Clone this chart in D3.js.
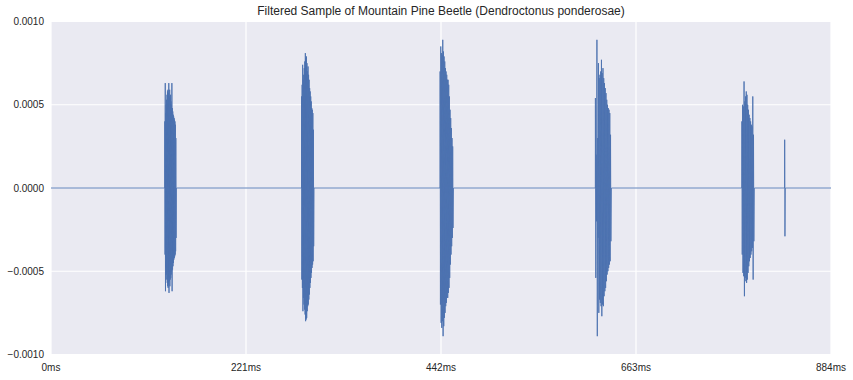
<!DOCTYPE html>
<html>
<head>
<meta charset="utf-8">
<script src="https://cdn.jsdelivr.net/npm/d3@7"></script>
<style>
  body { margin: 0; background: #fff; }
  text { font-family: "Liberation Sans", Arial, sans-serif; fill: #262626; }
</style>
</head>
<body>
<div id="canvas"></div>
<script>
"use strict"

/* Data: bursts of the filtered signal (ms, amplitude) */
let burstStart = [129, 284, 441, 617, 783, 831.5];
let burstLength = [13, 14, 15, 18, 14, 0.6];
let burstPos = [
    [4.0, 6.3, 4.5, 5.0, 5.3, 5.6, 5.8, 5.9, 5.7, 6.3, 5.5, 5.9, 5.4, 5.6, 5.2, 5.0, 6.3, 4.8, 4.6, 4.4, 4.3, 4.2, 4.1, 4.0, 3.8, 3.0],
    [5.5, 6.2, 7.4, 6.5, 6.8, 7.2, 7.6, 8.1, 7.8, 7.9, 7.5, 7.0, 7.3, 6.8, 6.5, 6.0, 5.8, 5.5, 5.2, 4.8, 4.7, 4.5, 3.5],
    [7.0, 8.5, 8.1, 8.0, 8.9, 8.2, 7.9, 7.6, 7.2, 7.0, 6.8, 6.5, 6.5, 6.2, 5.5, 4.7, 4.2, 3.6, 3.0, 2.5],
    [5.4, 2.0, 8.9, 3.0, 7.5, 6.6, 6.8, 7.0, 7.7, 6.9, 7.2, 6.6, 6.3, 6.0, 5.7, 5.3, 5.0, 4.8, 4.7, 4.5, 3.2],
    [4.0, 5.0, 4.9, 6.4, 5.2, 5.5, 5.8, 5.6, 5.0, 4.7, 4.4, 4.2, 4.0, 3.8, 3.7, 5.5, 3.2],
    [2.9]
];
let burstNeg = [
    [-4.0, -6.2, -4.8, -5.2, -5.5, -5.7, -5.9, -6.0, -5.8, -6.3, -5.6, -5.9, -5.5, -5.4, -5.2, -5.0, -6.2, -4.9, -4.7, -4.5, -4.3, -4.2, -4.1, -4.0, -3.8, -3.0],
    [-5.5, -6.0, -7.4, -6.6, -7.0, -7.3, -7.6, -8.0, -7.9, -7.8, -7.4, -7.1, -7.0, -6.7, -6.4, -6.0, -5.7, -5.4, -5.1, -4.8, -4.6, -4.4, -3.5],
    [-7.0, -8.1, -8.4, -8.0, -8.9, -8.3, -7.8, -7.5, -7.1, -6.9, -6.6, -6.6, -6.3, -6.0, -5.4, -4.6, -4.0, -3.5, -3.0, -2.4],
    [-5.4, -2.0, -8.9, -3.0, -7.5, -6.7, -6.9, -7.1, -7.7, -7.0, -7.1, -6.5, -6.2, -6.0, -5.6, -5.2, -5.0, -4.8, -4.6, -4.4, -3.2],
    [-4.0, -5.1, -5.3, -6.5, -5.4, -5.6, -5.7, -5.5, -5.1, -4.7, -4.4, -4.2, -4.0, -3.8, -3.6, -5.5, -3.2],
    [-2.9]
]; // amplitudes in units of 1e-4

let xTicks = [0, 221, 442, 663, 884];
let yTicks = [0.001, 0.0005, 0, -0.0005, -0.001];
let yTickLabels = ["0.0010", "0.0005", "0.0000", "\u22120.0005", "\u22120.0010"];

/* Drawing config */
let svgWidth = 853;
let svgHeight = 380;
let plotLeft = 51, plotRight = 831, plotTop = 21.5, plotBottom = 354.5;

let svg = d3.select("#canvas")
    .append("svg")
    .attr("width", svgWidth)
    .attr("height", svgHeight);

let xScale = d3.scaleLinear()
    .domain([0, 884])
    .range([plotLeft, plotRight]);

let yScale = d3.scaleLinear()
    .domain([-0.001, 0.001])
    .range([plotBottom, plotTop]);

/* background + grid */
svg.append("rect")
    .attr("x", plotLeft)
    .attr("y", plotTop)
    .attr("width", plotRight - plotLeft)
    .attr("height", plotBottom - plotTop)
    .attr("fill", "#EAEAF2");

svg.selectAll(".xgrid")
    .data(xTicks)
    .join("line")
    .attr("x1", d => xScale(d))
    .attr("x2", d => xScale(d))
    .attr("y1", plotTop)
    .attr("y2", plotBottom)
    .attr("stroke", "white")
    .attr("stroke-width", 1.2);

svg.selectAll(".ygrid")
    .data(yTicks)
    .join("line")
    .attr("x1", plotLeft)
    .attr("x2", plotRight)
    .attr("y1", d => yScale(d))
    .attr("y2", d => yScale(d))
    .attr("stroke", "white")
    .attr("stroke-width", 1.2);

/* build sample points: zero between bursts, alternating peaks inside */
let points = [[0, 0]];
burstStart.forEach(function(t0, i) {
    let n = burstPos[i].length;
    let step = burstLength[i] / n;
    points.push([t0 - 0.1, 0]);
    for (let k = 0; k < n; k++) {
        points.push([t0 + k * step, burstPos[i][k] * 1e-4]);
        points.push([t0 + (k + 0.5) * step, burstNeg[i][k] * 1e-4]);
    }
    points.push([t0 + burstLength[i] + 0.1, 0]);
});
points.push([884, 0]);

let line = d3.line()
    .x(d => xScale(d[0]))
    .y(d => yScale(d[1]));

svg.append("path")
    .datum(points)
    .attr("d", line)
    .attr("fill", "none")
    .attr("stroke", "#4C72B0")
    .attr("stroke-width", 0.9)
    .attr("stroke-linejoin", "miter");

/* tick labels */
svg.selectAll(".xlab")
    .data(xTicks)
    .join("text")
    .attr("x", d => xScale(d))
    .attr("y", plotBottom + 16)
    .attr("text-anchor", "middle")
    .style("font-size", "10px")
    .text(d => d + "ms");

svg.selectAll(".ylab")
    .data(yTicks)
    .join("text")
    .attr("x", plotLeft - 7)
    .attr("y", d => yScale(d))
    .attr("dy", "0.35em")
    .attr("text-anchor", "end")
    .style("font-size", "10px")
    .text((d, i) => yTickLabels[i]);

/* title */
svg.append("text")
    .attr("x", (plotLeft + plotRight) / 2)
    .attr("y", 15)
    .attr("text-anchor", "middle")
    .style("font-size", "12px")
    .text("Filtered Sample of Mountain Pine Beetle (Dendroctonus ponderosae)");
</script>
</body>
</html>
